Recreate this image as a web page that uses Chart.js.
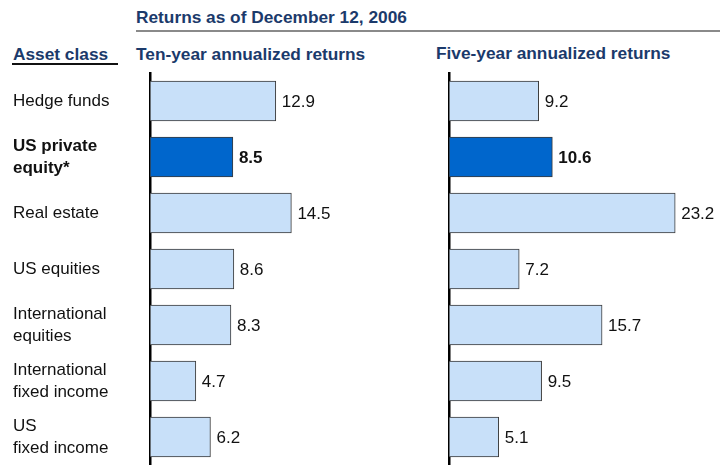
<!DOCTYPE html>
<html>
<head>
<meta charset="utf-8">
<title>Returns as of December 12, 2006</title>
<script src="https://cdn.jsdelivr.net/npm/chart.js@4.4.1/dist/chart.umd.min.js"></script>
<style>
  html, body { margin: 0; padding: 0; background: #fff; }
  #wrap {
    position: relative;
    width: 720px;
    height: 465px;
    overflow: hidden;
    font-family: "Liberation Sans", Arial, sans-serif;
  }
  .head {
    position: absolute;
    font-size: 17.3px;
    line-height: 20px;
    font-weight: bold;
    color: #1b3a6b;
    white-space: nowrap;
  }
  .rule { position: absolute; }
  canvas { position: absolute; top: 0; }
</style>
</head>
<body>
<div id="wrap">
  <div class="head" style="left:136px; top:7px;">Returns as of December 12, 2006</div>
  <div class="rule" style="left:136px; top:30px; width:584px; height:2px; background:#8a8a8a;"></div>
  <div class="head" style="left:13px; top:44px;">Asset class</div>
  <div class="rule" style="left:12px; top:63px; width:106px; height:2px; background:#111;"></div>
  <div class="head" style="left:136px; top:44px;">Ten-year annualized returns</div>
  <div class="head" style="left:436px; top:43px;">Five-year annualized returns</div>
  <canvas id="tenYear" width="450" height="465" style="left:0px;"></canvas>
  <canvas id="fiveYear" width="280" height="465" style="left:440px;"></canvas>
</div>

<script>
const assetClasses = [
  "Hedge funds",
  ["US private", "equity*"],
  "Real estate",
  "US equities",
  ["International", "equities"],
  ["International", "fixed income"],
  ["US", "fixed income"],
];
const tenYearReturns = [12.9, 8.5, 14.5, 8.6, 8.3, 4.7, 6.2];
const fiveYearReturns = [9.2, 10.6, 23.2, 7.2, 15.7, 9.5, 5.1];
const highlightIndex = 1; // US private equity

const FONT = "'Liberation Sans', Arial, sans-serif";
const LIGHT = "#c8e0f9";
const DARK = "#0066cc";

// number printed just past the end of each bar
const valueLabels = {
  id: "valueLabels",
  afterDatasetsDraw(chart) {
    const ctx = chart.ctx;
    const meta = chart.getDatasetMeta(0);
    const values = chart.data.datasets[0].data;
    ctx.save();
    ctx.fillStyle = "#111";
    ctx.textAlign = "left";
    ctx.textBaseline = "middle";
    meta.data.forEach((bar, i) => {
      ctx.font = (i === highlightIndex ? "bold " : "") + "17px " + FONT;
      ctx.fillText(values[i].toFixed(1), bar.x + 6, bar.y + 1);
    });
    ctx.restore();
  },
};

function makeChart(canvasId, values, opts) {
  const ctx = document.getElementById(canvasId).getContext("2d");
  return new Chart(ctx, {
    type: "bar",
    data: {
      labels: assetClasses,
      datasets: [
        {
          data: values,
          backgroundColor: values.map((v, i) => (i === highlightIndex ? DARK : LIGHT)),
          borderColor: "#3a3a3a",
          borderWidth: 1,
          borderSkipped: false,
          barThickness: 40,
        },
      ],
    },
    options: {
      indexAxis: "y",
      responsive: false,
      animation: false,
      layout: {
        padding: { top: 73, bottom: 0, left: opts.padLeft, right: opts.padRight },
      },
      plugins: {
        legend: { display: false },
        tooltip: { enabled: false },
      },
      scales: {
        x: { display: false, min: 0, max: opts.xMax },
        y: {
          grid: { display: false },
          border: { display: true, color: "#000", width: 2.5 },
          // fixed label column, and no extra room for the two-line labels at the ends
          afterFit: (scale) => {
            scale.width = opts.labelWidth;
            scale.paddingTop = 0;
            scale.paddingBottom = 0;
          },
          ticks: {
            display: opts.showLabels,
            autoSkip: false,
            padding: 0,
            crossAlign: "far",
            color: "#111",
            font: (c) => ({
              family: FONT,
              size: 17,
              lineHeight: 1.3,
              weight: c.index === highlightIndex ? "bold" : "normal",
            }),
          },
        },
      },
    },
    plugins: [valueLabels],
  });
}

// 9.75 px per percentage point on both panels
makeChart("tenYear", tenYearReturns, {
  showLabels: true, padLeft: 13, padRight: 7.5, labelWidth: 137, xMax: 30,
});
makeChart("fiveYear", fiveYearReturns, {
  showLabels: false, padLeft: 9, padRight: 0, labelWidth: 0, xMax: 271 / 9.75,
});
</script>
</body>
</html>
